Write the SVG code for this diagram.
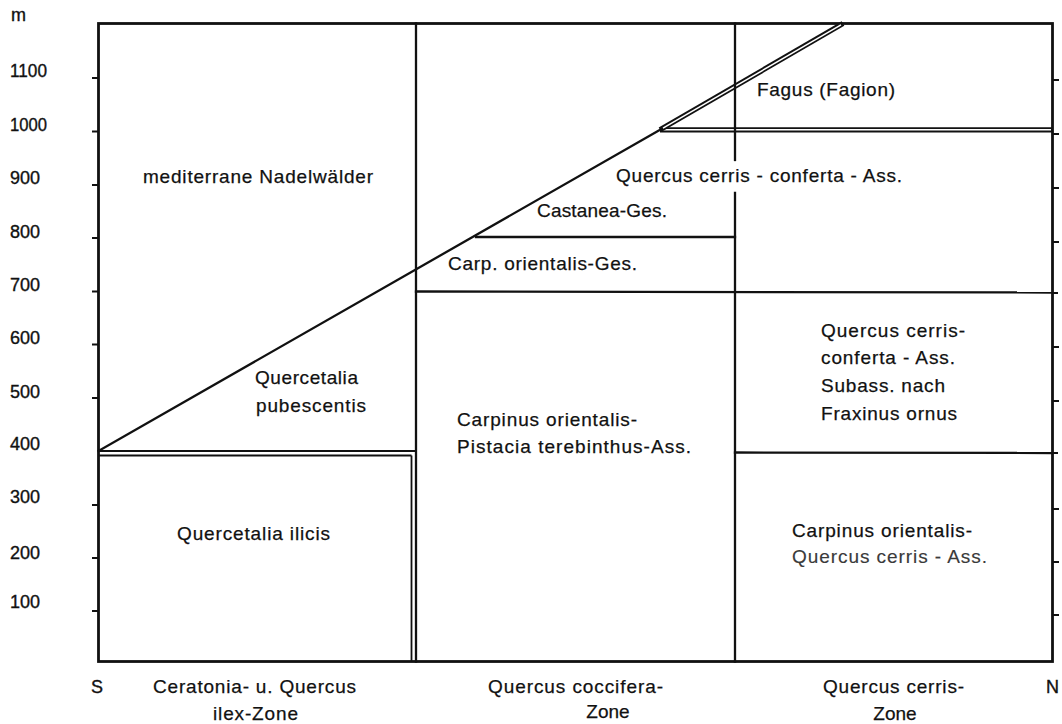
<svg xmlns="http://www.w3.org/2000/svg" width="1062" height="724" viewBox="0 0 1062 724">
<style>
.ln{stroke:#111111;stroke-width:2.3;fill:none;stroke-linecap:square}
.fr{stroke:#111111;stroke-width:2.8;fill:none}
.thin{stroke:#111111;stroke-width:1.8;fill:none}
.tk{stroke:#111111;stroke-width:2}
.dblk{stroke:#111111;stroke-width:5.2;fill:none}
.dblw{stroke:#ffffff;stroke-width:1.5;fill:none}
.t{font-family:"Liberation Sans",Arial,Helvetica,sans-serif;font-size:19px;fill:#111111;stroke:#111111;stroke-width:0.25}
.ax{font-family:"Liberation Sans",Arial,Helvetica,sans-serif;font-size:18px;fill:#111111;stroke:#111111;stroke-width:0.35}
.lt{fill:#3a3a3a;stroke:#3a3a3a;stroke-width:0.15}
</style>
<rect width="1062" height="724" fill="#ffffff"/>
<g id="connectors">
  <rect class="fr" x="98.5" y="23.5" width="954" height="638"/>
  <line class="dblk" x1="660" y1="129.8" x2="1052" y2="129.8"/>
  <line class="dblw" x1="662" y1="129.8" x2="1051" y2="129.8"/>
  <line class="dblk" x1="660" y1="129.8" x2="843" y2="23.5"/>
  <line class="dblw" x1="663" y1="128.2" x2="841" y2="24.8"/>
  <line class="thin" x1="98.5" y1="451" x2="416" y2="451"/>
  <line class="thin" x1="98.5" y1="455.5" x2="411.5" y2="455.5"/>
  <line class="thin" x1="411.5" y1="455.5" x2="411.5" y2="661.5"/>
  <line class="ln" x1="98.5" y1="451" x2="660" y2="129.8"/>
  <line class="ln" x1="416" y1="23.5" x2="416" y2="661.5"/>
  <line class="ln" x1="735" y1="23.5" x2="735" y2="160"/>
  <line class="ln" x1="735" y1="193" x2="735" y2="661.5"/>
  <line class="ln" x1="416" y1="291.5" x2="1052" y2="292.5"/>
  <line class="ln" x1="476" y1="237" x2="735" y2="237"/>
  <line class="ln" x1="735" y1="452.5" x2="1052" y2="453"/>
  <g class="tk">
    <line x1="92" y1="78" x2="98" y2="78"/>
    <line x1="92" y1="131.5" x2="98" y2="131.5"/>
    <line x1="92" y1="185" x2="98" y2="185"/>
    <line x1="92" y1="238" x2="98" y2="238"/>
    <line x1="92" y1="291.5" x2="98" y2="291.5"/>
    <line x1="92" y1="344.5" x2="98" y2="344.5"/>
    <line x1="92" y1="398" x2="98" y2="398"/>
    <line x1="92" y1="505" x2="98" y2="505"/>
    <line x1="92" y1="558" x2="98" y2="558"/>
    <line x1="92" y1="611" x2="98" y2="611"/>
    <line x1="1053" y1="80" x2="1059" y2="80"/>
    <line x1="1053" y1="134" x2="1059" y2="134"/>
    <line x1="1053" y1="188" x2="1059" y2="188"/>
    <line x1="1053" y1="242" x2="1059" y2="242"/>
    <line x1="1053" y1="293" x2="1058" y2="293"/>
    <line x1="1053" y1="347" x2="1059" y2="347"/>
    <line x1="1053" y1="401" x2="1059" y2="401"/>
    <line x1="1053" y1="453" x2="1058" y2="453"/>
    <line x1="1053" y1="509" x2="1059" y2="509"/>
    <line x1="1053" y1="562" x2="1059" y2="562"/>
    <line x1="1053" y1="615" x2="1059" y2="615"/>
  </g>
</g>
<g id="axis-labels">
  <text class="ax" x="11" y="21" font-size="18.5">m</text>
  <text class="ax" x="10" y="77" textLength="37" lengthAdjust="spacingAndGlyphs">1100</text>
  <text class="ax" x="10" y="131" textLength="37" lengthAdjust="spacingAndGlyphs">1000</text>
  <text class="ax" x="10" y="184">900</text>
  <text class="ax" x="10" y="238">800</text>
  <text class="ax" x="10" y="291">700</text>
  <text class="ax" x="10" y="344">600</text>
  <text class="ax" x="10" y="398">500</text>
  <text class="ax" x="10" y="450">400</text>
  <text class="ax" x="10" y="503">300</text>
  <text class="ax" x="10" y="559">200</text>
  <text class="ax" x="10" y="608">100</text>
  <text class="ax" x="91" y="693" font-size="18.5">S</text>
  <text class="ax" x="1046" y="693" font-size="18.5">N</text>
</g>
<g id="node-nadelwaelder">
  <text class="t" x="143" y="183" textLength="230" lengthAdjust="spacing">mediterrane Nadelwälder</text>
</g>
<g id="node-fagus">
  <text class="t" x="757" y="96" textLength="138" lengthAdjust="spacing">Fagus (Fagion)</text>
</g>
<g id="node-cerris-conferta">
  <text class="t" x="616" y="182" textLength="286" lengthAdjust="spacing">Quercus cerris - conferta - Ass.</text>
</g>
<g id="node-castanea">
  <text class="t" x="537" y="217" textLength="130" lengthAdjust="spacing">Castanea-Ges.</text>
</g>
<g id="node-carp-ges">
  <text class="t" x="448" y="270" textLength="189" lengthAdjust="spacing">Carp. orientalis-Ges.</text>
</g>
<g id="node-pubescentis">
  <text class="t" x="255" y="384" textLength="103" lengthAdjust="spacing">Quercetalia</text>
  <text class="t" x="256" y="412" textLength="110" lengthAdjust="spacing">pubescentis</text>
</g>
<g id="node-ilicis">
  <text class="t" x="177" y="540" textLength="153" lengthAdjust="spacing">Quercetalia ilicis</text>
</g>
<g id="node-pistacia">
  <text class="t" x="457" y="426" textLength="180" lengthAdjust="spacing">Carpinus orientalis-</text>
  <text class="t" x="457" y="453" textLength="234" lengthAdjust="spacing">Pistacia terebinthus-Ass.</text>
</g>
<g id="node-fraxinus">
  <text class="t" x="821" y="337" textLength="144" lengthAdjust="spacing">Quercus cerris-</text>
  <text class="t" x="821" y="364" textLength="134" lengthAdjust="spacing">conferta - Ass.</text>
  <text class="t" x="821" y="392" textLength="124" lengthAdjust="spacing">Subass. nach</text>
  <text class="t" x="821" y="420" textLength="136" lengthAdjust="spacing">Fraxinus ornus</text>
</g>
<g id="node-carpinus-cerris">
  <text class="t" x="792" y="537" textLength="180" lengthAdjust="spacing">Carpinus orientalis-</text>
  <text class="t lt" x="792" y="563" textLength="195" lengthAdjust="spacing">Quercus cerris - Ass.</text>
</g>
<g id="zone-labels">
  <text class="t" x="153" y="693" textLength="203" lengthAdjust="spacing">Ceratonia- u. Quercus</text>
  <text class="t" x="213" y="720" textLength="85" lengthAdjust="spacing">ilex-Zone</text>
  <text class="t" x="488" y="693" textLength="175" lengthAdjust="spacing">Quercus coccifera-</text>
  <text class="t" x="608" y="718" text-anchor="middle">Zone</text>
  <text class="t" x="823" y="693" textLength="141" lengthAdjust="spacing">Quercus cerris-</text>
  <text class="t" x="895" y="720" text-anchor="middle">Zone</text>
</g>
</svg>
